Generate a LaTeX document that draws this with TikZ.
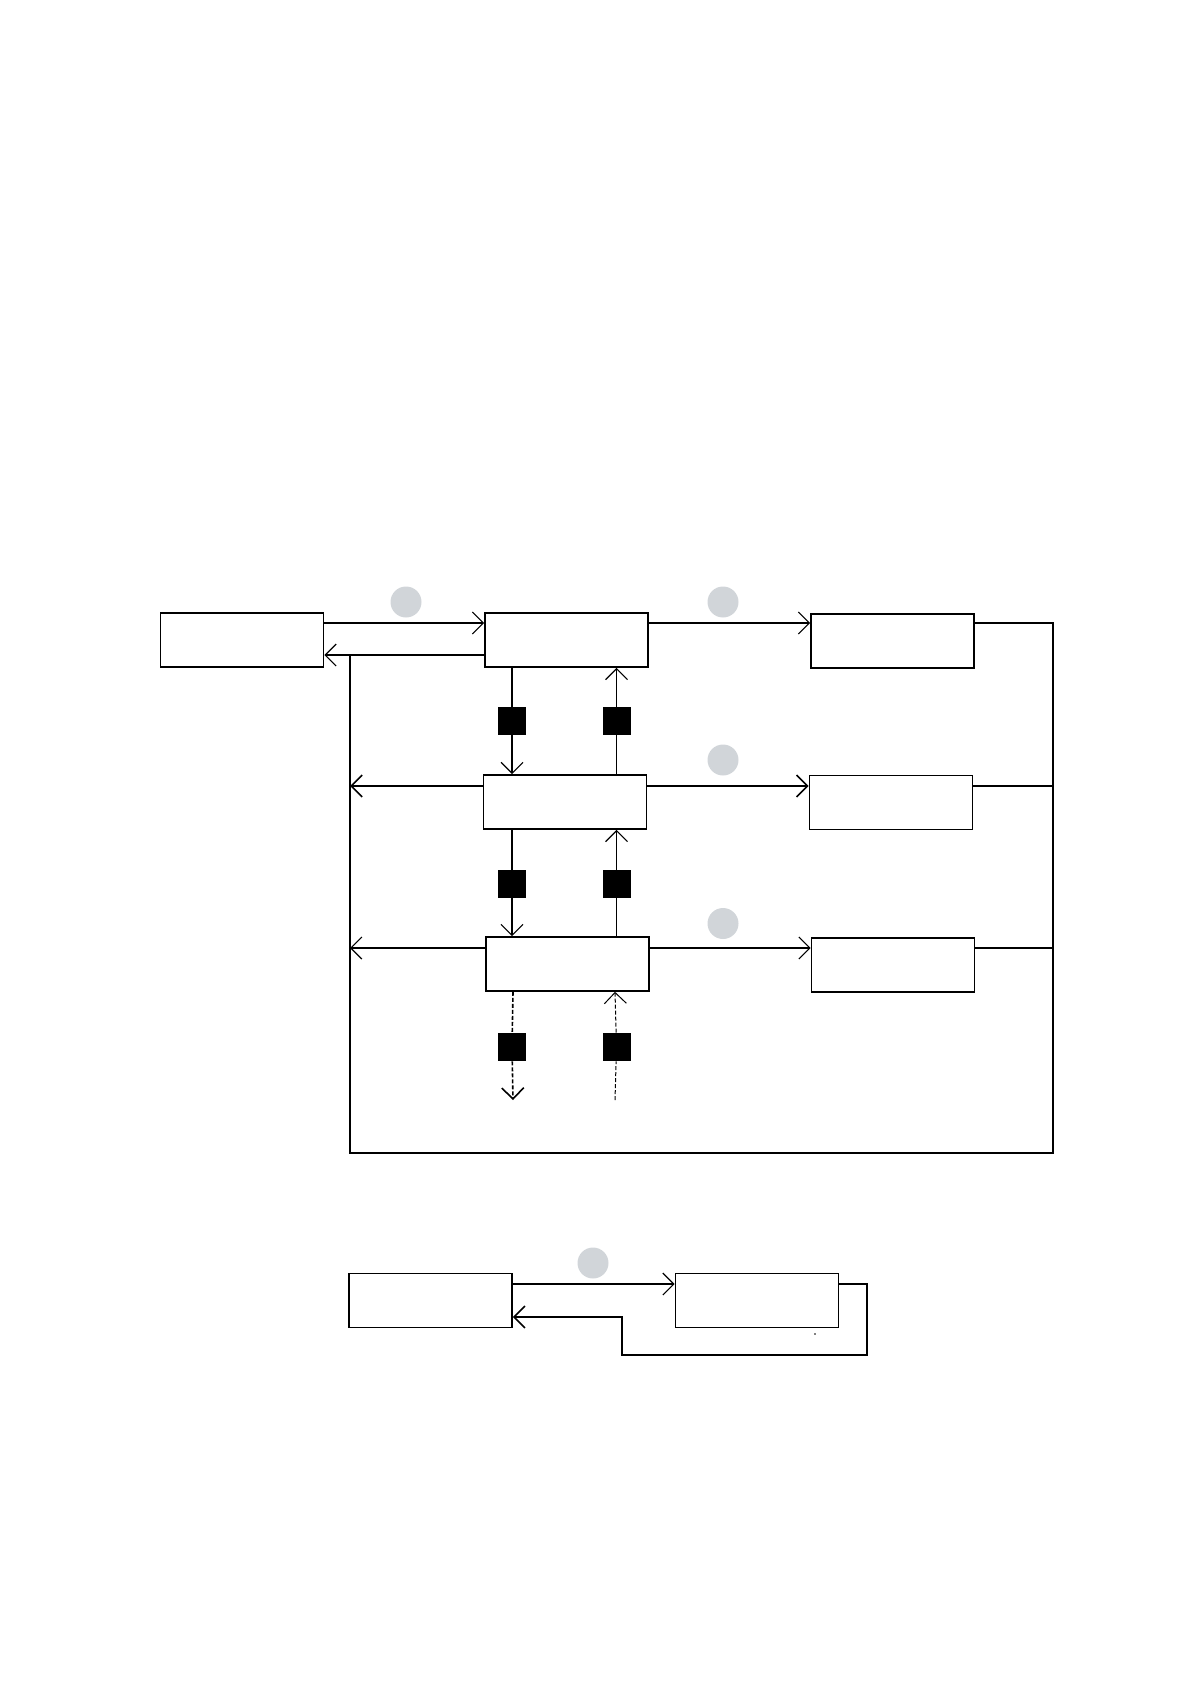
\documentclass[tikz,border=0pt]{standalone}
\usetikzlibrary{arrows.meta}
\definecolor{dotgray}{RGB}{209,213,217}
\begin{document}
\begin{tikzpicture}[x=0.5pt,y=-0.5pt,
  box/.style={draw,line width=0.8pt,minimum width=81.5pt,minimum height=27pt,inner sep=0pt,fill=white},
  sq/.style={fill=black,minimum size=14pt,inner sep=0pt},
  dot/.style={circle,fill=dotgray,minimum size=15.5pt,inner sep=0pt},
  arr/.style={-{Straight Barb[length=5.5pt,width=11pt]}},
  ln/.style={line width=0.6pt},
  rail/.style={line width=0.8pt},
  dsh/.style={line width=0.6pt,dash pattern=on 2pt off 1pt}]
\useasboundingbox (0,0) rectangle (1191,1684);
% boxes
\node[box] (A) at (242,640) {};
\node[box] (B) at (566.5,640) {};
\node[box] (D) at (892.5,641) {};
\node[box] (C) at (565,802) {};
\node[box] (E) at (891,802.5) {};
\node[box] (F) at (567.5,964) {};
\node[box] (G) at (893,965) {};
\node[box] (H) at (430.5,1300.5) {};
\node[box] (I) at (757,1300.5) {};
% grey dots
\node[dot] (c1) at (406,602) {};
\node[dot] (c2) at (723,602) {};
\node[dot] (c3) at (723,760) {};
\node[dot] (c4) at (723,923.5) {};
\node[dot] (c5) at (593,1263) {};
% rails
\coordinate (Lt) at (350,655);
\coordinate (Lb) at (350,1153);
\coordinate (Rb) at (1053,1153);
\coordinate (Rt) at (1053,623);
\draw[rail] (D.east |- Rt) -- (Rt) -- (Rb) -- (Lb) -- (Lt);
% top row
\draw[ln,arr] (A.east |- 0,623) -- (B.west |- 0,623);
\draw[ln,arr] (B.west |- 0,655) -- (A.east |- 0,655);
\draw[ln,arr] (B.east |- 0,623) -- (D.west |- 0,623);
% second row
\draw[rail,arr] (C.west |- 0,786) -- (Lt |- 0,786);
\draw[rail,arr] (C.east |- 0,786) -- (E.west |- 0,786);
\draw[rail] (E.east |- 0,786) -- (Rt |- 0,786);
% third row
\draw[ln,arr] (F.west |- 0,948) -- (Lt |- 0,948);
\draw[ln,arr] (F.east |- 0,948) -- (G.west |- 0,948);
\draw[ln] (G.east |- 0,948) -- (Rt |- 0,948);
% squares
\node[sq] (s1) at (512,721) {};
\node[sq] (s2) at (616.5,721) {};
\node[sq] (s3) at (512,884) {};
\node[sq] (s4) at (616.5,884) {};
\node[sq] (s5) at (512,1047) {};
\node[sq] (s6) at (616.5,1047) {};
% verticals B-C
\draw[ln] (B.south -| s1) -- (s1);
\draw[ln,arr] (s1) -- (C.north -| s1);
\draw[ln] (C.north -| s2) -- (s2);
\draw[ln,arr] (s2) -- (B.south -| s2);
% verticals C-F
\draw[ln] (C.south -| s3) -- (s3);
\draw[ln,arr] (s3) -- (F.north -| s3);
\draw[ln] (F.north -| s4) -- (s4);
\draw[ln,arr] (s4) -- (C.south -| s4);
% dashed below F
\coordinate (d5) at (513,1100);
\coordinate (d6) at (615,1100);
\draw[dsh,line width=0.8pt] (F.south -| d5) -- (s5);
\draw[dsh,line width=0.8pt,arr] (s5) -- (d5);
\draw[dsh,line width=0.5pt] (d6) -- (s6);
\draw[dsh,line width=0.5pt,arr] (s6) -- (F.south -| d6);
% bottom pair
\draw[ln,arr] (H.east |- 0,1284) -- (I.west |- 0,1284);
\draw[rail,arr] (I.east |- 0,1284) -- (867,1284) -- (867,1355) -- (622,1355) -- (622,1317) -- (H.east |- 0,1317);
\fill (815,1334) circle (0.4pt);
\end{tikzpicture}
\end{document}
